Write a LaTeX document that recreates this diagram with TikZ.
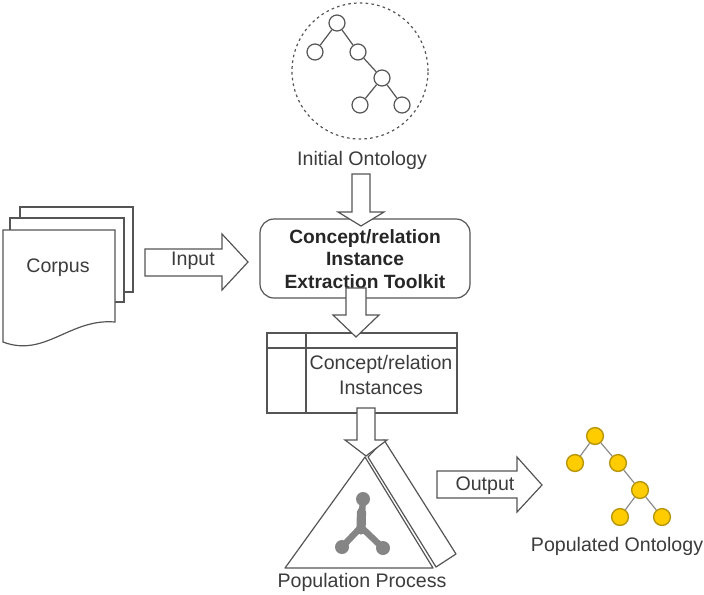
\documentclass[tikz,border=0pt]{standalone}
\usepackage{fontspec}
\setmainfont{Liberation Sans}
\begin{document}
\begin{tikzpicture}[x=0.5pt,y=-0.5pt,
  ln/.style={draw=linegray, line width=0.6pt},
  barrow/.style={ln, fill=white, line join=miter},
  txt/.style={text=textgray, font=\fontsize{9.8}{11}\selectfont, inner sep=0pt},
  btxt/.style={text=black!85, font=\fontsize{9.6}{11.2}\selectfont\bfseries, inner sep=0pt, align=center},
  tnode/.style={circle, draw=linegray, line width=0.6pt, fill=white, minimum size=8pt, inner sep=0pt},
  ynode/.style={circle, draw=ydark, line width=0.7pt, fill=yfill, minimum size=8.4pt, inner sep=0pt},
  tedge/.style={draw=linegray, line width=0.6pt},
  yedge/.style={draw=black!45, line width=0.6pt},
  mol/.style={draw=molgray, line width=3.2pt, line cap=round},
  mnode/.style={circle, fill=molgray, minimum size=7pt, inner sep=0pt}
]
\definecolor{linegray}{HTML}{555555}
\definecolor{textgray}{HTML}{3C3C3C}
\definecolor{yfill}{HTML}{FFCC00}
\definecolor{ydark}{HTML}{B8960A}
\definecolor{molgray}{HTML}{858585}
\useasboundingbox (0,0) rectangle (704,594);
\fill[white] (0,0) rectangle (704,594);

% ---------------- Initial ontology ----------------
\draw[ln, dash pattern=on 1.3pt off 1.6pt] (360,71) circle[radius=34pt];
\node[tnode] (i1) at (337,23) {};
\node[tnode] (i2) at (315,52) {};
\node[tnode] (i3) at (358,52) {};
\node[tnode] (i4) at (382,78) {};
\node[tnode] (i5) at (360,105) {};
\node[tnode] (i6) at (402,105) {};
\draw[tedge] (i1) -- (i2); \draw[tedge] (i1) -- (i3);
\draw[tedge] (i3) -- (i4); \draw[tedge] (i4) -- (i5); \draw[tedge] (i4) -- (i6);
\node[txt] (initlab) at (362,160) {Initial Ontology};

% ---------------- Corpus ----------------
\draw[ln, fill=white] (20,207) rectangle (133,292);
\draw[ln, fill=white] (10,218) rectangle (124,302);
\draw[ln, fill=white] (3,230) -- (115,230) -- (115,322)
   .. controls (70,318) and (45,358) .. (3,342) -- cycle;
\node[txt] (corpus) at (58,268) {Corpus};

% ---------------- Extraction toolkit box ----------------
\draw[ln, fill=white, rounded corners=7pt] (260,219) rectangle (470,298);
\node[btxt] (toolkit) at (365,259) {Concept/relation\\Instance\\Extraction Toolkit};

% arrow initial ontology -> toolkit
\draw[barrow] (352,174) -- (370,174) -- (370,212) -- (384,212) -- (361,226)
  -- (338,212) -- (352,212) -- cycle;

% Input arrow
\draw[barrow] (145,249) -- (222,249) -- (222,234) -- (248,262) -- (222,290)
  -- (222,276) -- (145,276) -- cycle;
\node[txt] (input) at (193,261) {Input};

% ---------------- Instances table ----------------
\draw[ln, fill=white] (267,333) rectangle (457,413);
\draw[ln] (267,348) -- (457,348);
\draw[ln] (306,333) -- (306,413);
\node[txt, align=center, font=\fontsize{9.8}{12.5}\selectfont] (inst) at (381,375) {Concept/relation\\Instances};

% arrow toolkit -> table
\draw[barrow] (346,288) -- (366,288) -- (366,315) -- (379,315) -- (356,337)
  -- (333,315) -- (346,315) -- cycle;

% ---------------- Population process ----------------
\draw[ln, fill=white, line join=round] (368,457) -- (384,440) -- (456,554) -- (436,567) -- cycle;
\draw[ln, fill=white, line join=round] (365,457) -- (285,568) -- (433,568) -- cycle;
% molecule
\coordinate (mj) at (361,527);
\node[mnode] (m1) at (363,499) {};
\node[mnode] (m2) at (342,547) {};
\node[mnode] (m3) at (383,548) {};
\draw[mol] (m1.center) -- (mj);
\draw[mol] (mj) -- (m2.center);
\draw[mol] (mj) -- (m3.center);
\draw[molgray, line width=4.6pt, line cap=round] (361.5,512) -- (361,530);
\node[txt] (poplab) at (362,582) {Population Process};

% arrow table -> triangle
\draw[barrow] (357,408) -- (375,408) -- (375,440) -- (387,440) -- (366,456)
  -- (345,440) -- (357,440) -- cycle;

% Output arrow
\draw[barrow] (437,471) -- (517,471) -- (517,457) -- (542,485) -- (517,512)
  -- (517,498) -- (437,498) -- cycle;
\node[txt] (output) at (485,486) {Output};

% ---------------- Populated ontology ----------------
\node[ynode] (p1) at (595,436) {};
\node[ynode] (p2) at (575,463) {};
\node[ynode] (p3) at (618,463) {};
\node[ynode] (p4) at (640,490) {};
\node[ynode] (p5) at (620,517) {};
\node[ynode] (p6) at (662,517) {};
\draw[yedge] (p1) -- (p2); \draw[yedge] (p1) -- (p3);
\draw[yedge] (p3) -- (p4); \draw[yedge] (p4) -- (p5); \draw[yedge] (p4) -- (p6);
\node[txt] (poplab2) at (617,546) {Populated Ontology};
\end{tikzpicture}
\end{document}
